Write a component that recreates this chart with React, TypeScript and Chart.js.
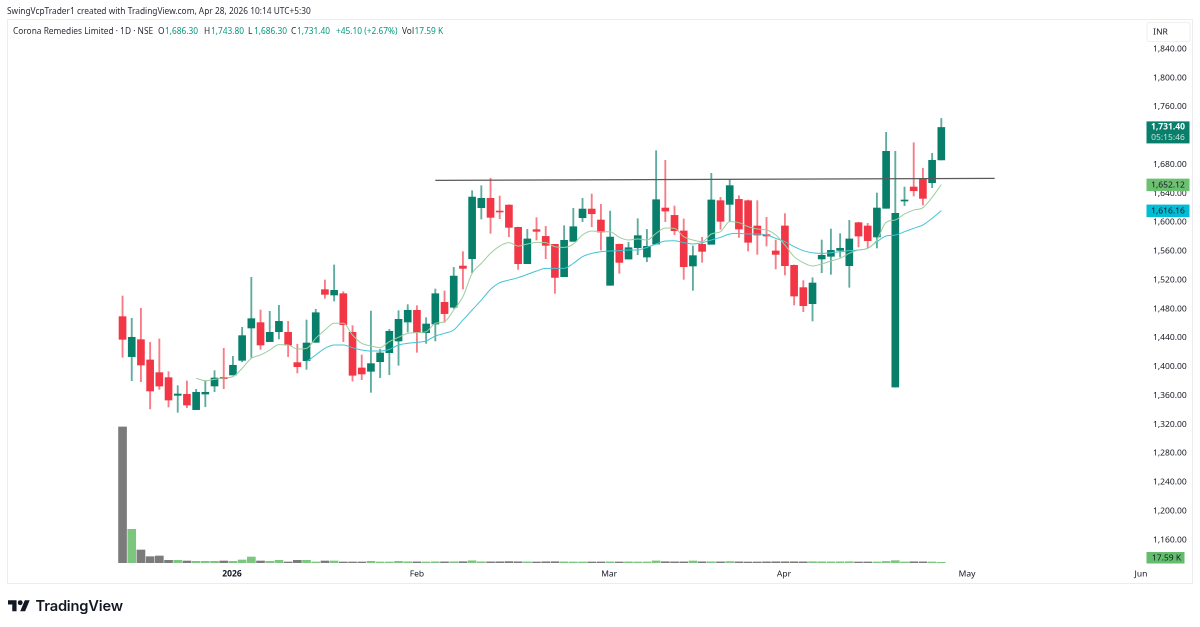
import React, { useEffect, useRef } from "react";
import { Chart, registerables } from "chart.js";

Chart.register(...registerables);

const opens = [1469.2,1413.8,1437.3,1409.2,1391.6,1384.7,1360.2,1361.6,1340.4,1362,1373.1,1385.1,1388.4,1408.7,1453.5,1460.9,1434.6,1448.4,1447.5,1405.5,1408.2,1433.6,1506.6,1499.2,1501,1447.5,1398.1,1393.5,1406.8,1419.3,1435.5,1461.8,1478,1447,1459,1489,1482.1,1539.3,1549.5,1620.2,1633.1,1615.5,1623.8,1592.9,1542.6,1589.7,1580.4,1569.4,1524.6,1573.5,1606.3,1618.3,1603.1,1512.6,1569.4,1549,1564.7,1551.8,1569.8,1619.7,1609.5,1587.9,1539.4,1569.4,1569.4,1629.9,1624.8,1631.7,1629.9,1594.8,1582.8,1560.2,1594.8,1540.3,1509.4,1487.2,1549.1,1552.8,1561,1539.8,1599.4,1594.8,1579.6,1619.3,1371.7,1629.4,1648.8,1660.4,1654.8,1686.3];
const highs = [1497.8,1466.9,1480.7,1433.6,1438.3,1393,1373.6,1380.1,1368.5,1380.1,1394.4,1425.3,1414.2,1454.4,1523.7,1478.4,1476.6,1484.9,1462.7,1430.9,1464.6,1479.4,1520,1540.8,1503.8,1456.7,1416.1,1477,1423.9,1451.6,1477.5,1485.8,1484.4,1467.8,1507.5,1504.8,1537.5,1559.2,1643.7,1650.6,1660.8,1636.3,1624.3,1593.4,1590.1,1606.3,1594.3,1569.4,1595.2,1619.2,1633.1,1639.1,1624.8,1615.5,1569.8,1572.1,1604.9,1590.1,1699.1,1685.7,1622.5,1604.5,1567.1,1579.1,1667.8,1634.5,1659,1636.8,1630.8,1629.9,1606.8,1575.4,1611.9,1540.8,1519.1,1523.2,1575.4,1590.6,1584.2,1602.6,1599.9,1598.5,1640.5,1724.6,1698.2,1648.8,1710.2,1674.7,1695.5,1743.8];
const lows = [1412.9,1380.5,1379.1,1341.3,1368.5,1344,1336.7,1343.1,1340.4,1344.5,1365.3,1369.4,1388.4,1406.8,1412.9,1423.9,1434.6,1438.3,1413.8,1391.2,1396.2,1433.6,1494.6,1490.9,1434.6,1380.1,1381.9,1364.4,1384.7,1388.8,1401.8,1447.9,1419.8,1432.2,1435.5,1461.3,1480.7,1507.5,1530.1,1604.5,1584.6,1604.9,1580,1534.7,1542.6,1575.4,1549.5,1501.5,1524.6,1573.5,1600.8,1593.8,1561.5,1512.6,1529.2,1549,1555,1545.3,1569.8,1600.8,1582.8,1520.9,1505.7,1544.5,1569.4,1590.2,1600.8,1579.1,1560.2,1555.5,1567.1,1535.2,1526.9,1485.3,1476.1,1463.2,1530.1,1527.8,1551.8,1509.8,1565.7,1564.3,1564.3,1619.3,1371.7,1623,1636.4,1623.9,1647.9,1686.3];
const closes = [1437.8,1440.6,1402.2,1366.2,1373.1,1353.7,1362,1346.8,1364.4,1364.4,1384.2,1383.3,1401.8,1442.9,1466.4,1429.9,1447.5,1462.7,1429.9,1399.9,1432.7,1474.7,1500.1,1505.7,1458.1,1387.9,1389.8,1404.1,1418.9,1448.9,1465.5,1478,1447.9,1459,1501,1473.4,1525.5,1536.1,1634.9,1633.1,1606.8,1614.2,1592.9,1542.6,1576.8,1587.4,1568,1523.6,1574.9,1593.8,1618.3,1611.8,1586.4,1579.5,1544.4,1564.7,1581.4,1566.6,1631.2,1615.5,1588.3,1538.5,1553.7,1559.7,1630.8,1601.3,1650.7,1590.6,1572.2,1582.3,1581,1555.5,1539.8,1497.8,1484.4,1515.8,1554.2,1561,1563.9,1576.8,1580.9,1574.5,1619.7,1698.2,1612.3,1630.8,1643.7,1633.1,1685.8,1731.4];
const volumesK = [3400,842,325,158,175,67,67,50,42,42,42,50,42,75,150,50,42,67,25,67,67,25,50,50,25,25,25,42,25,25,42,30,28,25,30,28,30,32,55,30,28,30,35,30,28,25,30,32,28,25,25,25,26,28,25,28,25,26,52,32,28,28,50,30,30,28,36,28,25,25,28,30,30,30,28,32,30,28,30,32,25,26,25,38,58,25,30,28,25,17.59];
const emaFast = [null,null,null,null,null,null,null,null,1383.8,1380.5,1382.4,1384.2,1386.1,1397.6,1411.5,1416.1,1423,1430.4,1429.9,1424.4,1425.3,1439.2,1450.7,1460,1460,1443.8,1432.2,1428.6,1426.2,1434.6,1440.6,1446.1,1447,1448.4,1460,1462.3,1478.4,1496.9,1529.2,1543,1556.9,1567,1571.7,1567,1569.8,1572.1,1571.7,1566.1,1565.2,1569.8,1582.3,1587.8,1586.9,1586.9,1579.1,1575.4,1576.7,1575.4,1584.6,1592,1591.5,1580,1575.4,1573.1,1583.7,1586.9,1600.8,1599.4,1593.9,1590.6,1589.3,1582.3,1568.5,1552.3,1544,1539.4,1542.2,1546.3,1550,1556.9,1561.5,1563.9,1575.4,1599.9,1603.1,1611.4,1616.9,1620.2,1634.5,1652.12];
const emaSlow = [null,null,null,null,null,null,null,null,null,null,null,null,null,null,null,null,null,null,null,null,1406.8,1416.1,1425.3,1429.9,1429.9,1426.2,1423,1421.6,1421.6,1423.9,1429.9,1432.2,1433.6,1435.5,1442.4,1446.1,1450.7,1464.5,1478.4,1492.2,1507,1516.2,1519.9,1523.2,1527.8,1532.4,1536.1,1536.1,1536.1,1543,1552.3,1556.9,1559.2,1560.1,1560.6,1561.5,1561.5,1565.2,1569.8,1574,1574.4,1571.7,1569.9,1571.7,1575.4,1579.1,1583.7,1584.6,1583.7,1583.7,1582.3,1577.7,1573.1,1566.2,1560.6,1557.8,1556.9,1557.8,1559.2,1560.6,1561.5,1563.9,1573.1,1580.9,1582.3,1586.9,1591.6,1596.2,1605.4,1616.16];
const trendIndex = [34, 94.8];
const trendPrice = [1658, 1660.8];
const priceTicks = [1840,1800,1760,1720,1680,1640,1600,1560,1520,1480,1440,1400,1360,1320,1280,1240,1200,1160];
const timeTickIndex = [11.9, 32, 52.9, 71.9, 91.8, 110.7];
const timeTickLabels = ["2026", "Feb", "Mar", "Apr", "May", "Jun"];

const UP = "#087f6b";
const DOWN = "#f23645";
const UP_WICK = "rgba(8,127,107,0.65)";
const DOWN_WICK = "rgba(242,54,69,0.65)";
const VOL_UP = "#7cc67f";
const VOL_DOWN = "#7b7b7b";
const FONT = '"Noto Sans", "Open Sans", sans-serif';
const FS = 8.5;
const HEADER_FS = 8.35;
const isUp = (i: number) => closes[i] >= opens[i];

const overlay = {
  id: "overlay",
  beforeDraw(chart: any) {
    const c = chart.ctx;
    c.save();
    c.fillStyle = "#ffffff";
    c.fillRect(0, 0, chart.width, chart.height);
    c.strokeStyle = "#ececec";
    c.lineWidth = 1;
    c.strokeRect(7.5, 19.5, 1185, 564);
    c.restore();
  },
  afterDraw(chart: any) {
    const c = chart.ctx;
    const y = chart.scales.y;
    const left = 1146.5;
    const w = 43;
    c.save();
    c.textBaseline = "middle";
    c.textAlign = "center";
    // INR box
    c.fillStyle = "#ffffff";
    c.strokeStyle = "#f0f0f0";
    c.beginPath();
    c.roundRect(left + 0.5, 22.5, w, 19, 2);
    c.fill();
    c.stroke();
    c.fillStyle = "#131722";
    c.font = `${FS}px ${FONT}`;
    c.fillText("INR", left + 14, 32);
    // Last price tag
    const last = closes[closes.length - 1];
    const py = y.getPixelForValue(last);
    c.fillStyle = UP;
    c.fillRect(left, py - 6, w, 22);
    c.fillStyle = "#ffffff";
    c.font = `bold ${FS}px ${FONT}`;
    c.fillText("1,731.40", left + w / 2, py - 0.5);
    c.fillStyle = "#c9e6df";
    c.font = `${FS}px ${FONT}`;
    c.fillText("05:15:46", left + w / 2, py + 10);
    // MA tags
    const tag = (val: number, col: string) => {
      const t = y.getPixelForValue(val);
      c.fillStyle = col;
      c.fillRect(left, t - 6, w, 12.5);
      c.fillStyle = "#131722";
      c.font = `${FS}px ${FONT}`;
      c.fillText(val.toLocaleString("en-US", { minimumFractionDigits: 2 }), left + w / 2, t + 0.5);
    };
    tag(emaFast[emaFast.length - 1] as number, "#6cc070");
    tag(emaSlow[emaSlow.length - 1] as number, "#00bcd4");
    // Volume tag
    c.fillStyle = "#63bd6c";
    c.fillRect(left, 552, 38, 11.5);
    c.fillStyle = "#131722";
    c.font = `${FS}px ${FONT}`;
    c.fillText("17.59 K", left + 20, 558);
    c.restore();
  },
};

const span = (x: number, y: number, text: string, color: string) => (
  <span
    style={{
      position: "absolute",
      left: x,
      top: y,
      color,
      fontFamily: FONT,
      fontSize: HEADER_FS,
      lineHeight: "14px",
      whiteSpace: "nowrap",
    }}
  >
    {text}
  </span>
);

export default function App() {
  const ref = useRef<HTMLCanvasElement | null>(null);
  useEffect(() => {
    const xs = opens.map((_, i) => i);
    const chart = new Chart(ref.current as HTMLCanvasElement, {
      data: {
        datasets: [
          {
            type: "line",
            order: 0,
            data: trendIndex.map((x, i) => ({ x, y: trendPrice[i] })),
            borderColor: "#5a5a5a",
            borderWidth: 1.3,
            pointRadius: 0,
            yAxisID: "y",
          },
          {
            type: "line",
            order: 1,
            data: xs.map((x) => ({ x, y: emaFast[x] })),
            borderColor: "#9ccf9e",
            borderWidth: 1,
            pointRadius: 0,
            cubicInterpolationMode: "monotone",
            yAxisID: "y",
          },
          {
            type: "line",
            order: 1,
            data: xs.map((x) => ({ x, y: emaSlow[x] })),
            borderColor: "#45c3d6",
            borderWidth: 1,
            pointRadius: 0,
            cubicInterpolationMode: "monotone",
            yAxisID: "y",
          },
          {
            type: "bar",
            order: 2,
            grouped: false,
            data: xs.map((x) => ({ x, y: [opens[x], closes[x]] })),
            backgroundColor: xs.map((x) => (isUp(x) ? UP : DOWN)),
            barThickness: 7,
            yAxisID: "y",
          },
          {
            type: "bar",
            order: 3,
            grouped: false,
            data: xs.map((x) => ({ x, y: [lows[x], highs[x]] })),
            backgroundColor: xs.map((x) => (isUp(x) ? UP_WICK : DOWN_WICK)),
            barThickness: 1.2,
            yAxisID: "y",
          },
          {
            type: "bar",
            order: 4,
            grouped: false,
            data: xs.map((x) => ({ x, y: volumesK[x] })),
            backgroundColor: xs.map((x) => (isUp(x) ? VOL_UP : VOL_DOWN)),
            barThickness: 8,
            yAxisID: "vol",
          },
        ],
      } as any,
      options: {
        animation: false,
        responsive: false,
        devicePixelRatio: 2,
        layout: { padding: { left: 8, right: 8, top: 20, bottom: 44 } },
        plugins: { legend: { display: false }, tooltip: { enabled: false } },
        scales: {
          x: {
            type: "linear",
            min: -12.45,
            max: 111.25,
            grid: { display: false, drawTicks: false },
            border: { display: false },
            offset: false,
            afterBuildTicks: (s: any) => {
              s.ticks = timeTickIndex.map((value) => ({ value }));
            },
            afterFit: (s: any) => {
              s.height = 20;
            },
            ticks: {
              autoSkip: false,
              maxRotation: 0,
              padding: 6,
              color: "#131722",
              font: (ctx: any) => ({ family: FONT, size: FS, weight: ctx.index === 0 ? "bold" : "normal" }),
              callback: (_v: any, i: number) => timeTickLabels[i],
            },
          },
          y: {
            position: "right",
            min: 1127.9,
            max: 1880.2,
            grid: { display: false, drawTicks: false },
            border: { display: false },
            afterBuildTicks: (s: any) => {
              s.ticks = priceTicks.map((value) => ({ value }));
            },
            afterFit: (s: any) => {
              s.width = 46;
            },
            ticks: {
              autoSkip: false,
              padding: 7,
              color: "#131722",
              font: { family: FONT, size: FS },
              callback: (v: any) => Number(v).toLocaleString("en-US", { minimumFractionDigits: 2 }),
            },
          },
          vol: { display: false, position: "left", min: 0, max: 13575 },
        },
      } as any,
      plugins: [overlay],
    });
    return () => chart.destroy();
  }, []);

  return (
    <div style={{ position: "fixed", left: 0, top: 0, width: 1200, height: 627, background: "#fff", overflow: "hidden" }}>
      <canvas ref={ref} width={1200} height={627} style={{ display: "block", width: 1200, height: 627 }} />
      {span(7, 4, "SwingVcpTrader1 created with TradingView.com, Apr 28, 2026 10:14 UTC+5:30", "#2a2e39")}
      {span(13, 23.5, "Corona Remedies Limited · 1D · NSE", "#2a2e39")}
      {span(158, 23.5, "O", "#2a2e39")}
      {span(165, 23.5, "1,686.30", "#089981")}
      {span(204, 23.5, "H", "#2a2e39")}
      {span(211, 23.5, "1,743.80", "#089981")}
      {span(248, 23.5, "L", "#2a2e39")}
      {span(254, 23.5, "1,686.30", "#089981")}
      {span(291, 23.5, "C", "#2a2e39")}
      {span(297, 23.5, "1,731.40", "#089981")}
      {span(336, 23.5, "+45.10 (+2.67%)", "#089981")}
      {span(402, 23.5, "Vol", "#2a2e39")}
      {span(414.5, 23.5, "17.59 K", "#089981")}
      <svg viewBox="0 4 36 18" width={22} height={11.5} style={{ position: "absolute", left: 8, top: 600 }}>
        <path d="M14 22H7V11H0V4h14v18zM28 22h-8l7.5-18h8L28 22z" fill="#131722" />
        <circle cx="20" cy="8" r="4" fill="#131722" />
      </svg>
      <span
        style={{
          position: "absolute",
          left: 35.5,
          top: 596,
          fontFamily: "Inter, sans-serif",
          fontWeight: 600,
          fontSize: 14.7,
          lineHeight: "20px",
          letterSpacing: "-0.2px",
          color: "#131722",
          whiteSpace: "nowrap",
        }}
      >
        TradingView
      </span>
    </div>
  );
}
